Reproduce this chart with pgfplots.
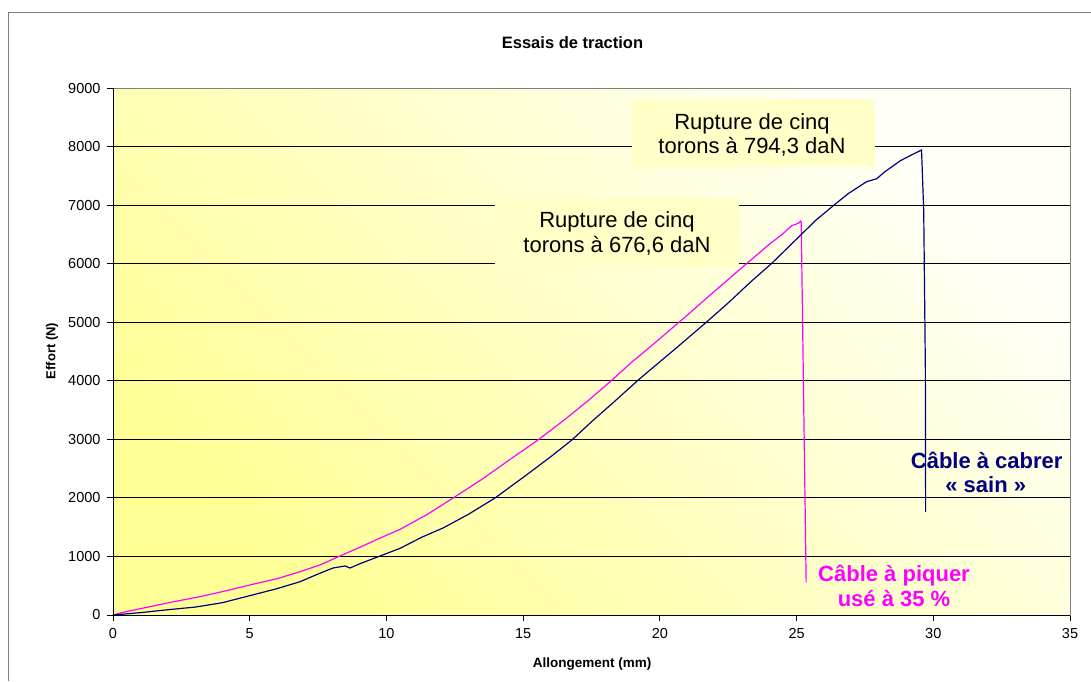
\documentclass[border=0pt]{standalone}
\usepackage{pgfplots}
\pgfplotsset{compat=1.18}
\usepackage{fontspec}
\setmainfont{Liberation Sans}
\definecolor{navyc}{RGB}{0,0,128}
\definecolor{magc}{RGB}{255,0,255}
\definecolor{boxc}{RGB}{255,255,200}
\definecolor{bgA}{RGB}{255,255,150}
\definecolor{bgB}{RGB}{255,255,248}
\definecolor{frame}{RGB}{128,128,128}
\begin{document}
\begin{tikzpicture}[x=1pt,y=1pt]
\useasboundingbox (0,0) rectangle (1091,681);
\draw[frame, line width=1.3pt] (8.3,0) -- (8.3,668.7) -- (1091,668.7);
\begin{axis}[at={(113pt,66pt)}, anchor=south west, scale only axis,
  width=957pt, height=527pt,
  xmin=0, xmax=35, ymin=0, ymax=9000,
  xtick={0,5,...,35}, ytick={0,1000,...,9000},
  tick pos=left, tick align=outside, major tick length=6pt,
  tick style={black, line width=0.8pt},
  ymajorgrids, grid style={black, line width=0.8pt},
  axis line style={frame, line width=1pt},
  axis background/.style={shade, top color=bgB, bottom color=bgA, shading angle=-45},
  /pgf/number format/assume math mode=true,
  /pgf/number format/1000 sep={},
  ticklabel style={font=\fontsize{14.5}{16}\selectfont},
  xticklabel style={yshift=-4pt},
  yticklabel style={xshift=-3pt},
  clip=false,
]
\addplot[magc, line width=1.2pt] coordinates {
(0,0) (0.5,60) (1.35,142) (2.2,225) (3.18,313) (4.1,410) (5.0,512) (6.0,620)
(6.84,740) (7.6,860) (8.3,1008) (9.0,1150) (9.7,1300) (10.5,1463) (11.5,1720)
(12.44,1998) (13.5,2320) (14.5,2650) (15.54,2988) (16.5,3330) (17.4,3670)
(18.25,4013) (19.0,4330) (19.64,4577) (20.0,4720) (21.0,5120) (22.0,5530)
(23.17,6000) (24.0,6330) (24.5,6510) (24.82,6650) (25.07,6690) (25.15,6728)
(25.17,6700) (25.35,558)
};
\addplot[navyc, line width=1.2pt] coordinates {
(0,0) (1,40) (2,90) (3,135) (4,210) (5,330) (6,450) (6.84,569) (7.5,700)
(8.05,803) (8.49,837) (8.67,803) (9.0,870) (9.64,985) (10.5,1139) (11.3,1330)
(12.07,1486) (13.0,1720) (13.97,1998) (15.0,2350) (16.0,2700) (16.78,2988)
(17.5,3300) (18.3,3630) (19.21,4013) (19.64,4184) (20.5,4520) (21.7,5000)
(22.5,5330) (23.3,5680) (24.09,6005) (25.0,6420) (25.7,6740) (26.34,6990)
(26.9,7200) (27.56,7400) (27.93,7450) (28.2,7560) (28.8,7760) (29.3,7880)
(29.57,7941) (29.65,6900) (29.71,4200) (29.72,1759)
};
\draw[black, line width=1pt] (rel axis cs:0,1) -- (rel axis cs:0,0) -- (rel axis cs:1,0);
\end{axis}
% title and labels
\node[font=\bfseries\fontsize{16.5}{18}\selectfont, anchor=base] at (572.5,632.7) {Essais de traction};
\node[font=\bfseries\fontsize{13.5}{15}\selectfont, anchor=base] at (592.2,13.3) {Allongement (mm)};
\node[font=\bfseries\fontsize{13}{15}\selectfont, rotate=90] at (52,330) {Effort (N)};
% boxes
\fill[boxc] (631.7,513.7) rectangle (875,581.7);
\node[font=\fontsize{22}{24}\selectfont, anchor=base] at (752,551) {Rupture de cinq};
\node[font=\fontsize{22}{24}\selectfont, anchor=base] at (752,527.7) {torons à 794,3 daN};
\fill[boxc] (495,414.3) rectangle (739,483.3);
\node[font=\fontsize{22}{24}\selectfont, anchor=base] at (617,453.3) {Rupture de cinq};
\node[font=\fontsize{22}{24}\selectfont, anchor=base] at (617,428.3) {torons à 676,6 daN};
% annotations
\node[font=\bfseries\fontsize{22}{24}\selectfont, text=navyc, anchor=base] at (986.7,212.3) {Câble à cabrer};
\node[font=\bfseries\fontsize{22}{24}\selectfont, text=navyc, anchor=base] at (985.7,188.3) {« sain »};
\node[font=\bfseries\fontsize{22}{24}\selectfont, text=magc, anchor=base] at (894,99.3) {Câble à piquer};
\node[font=\bfseries\fontsize{22}{24}\selectfont, text=magc, anchor=base] at (894,74.3) {usé à 35 \%};
\end{tikzpicture}
\end{document}
